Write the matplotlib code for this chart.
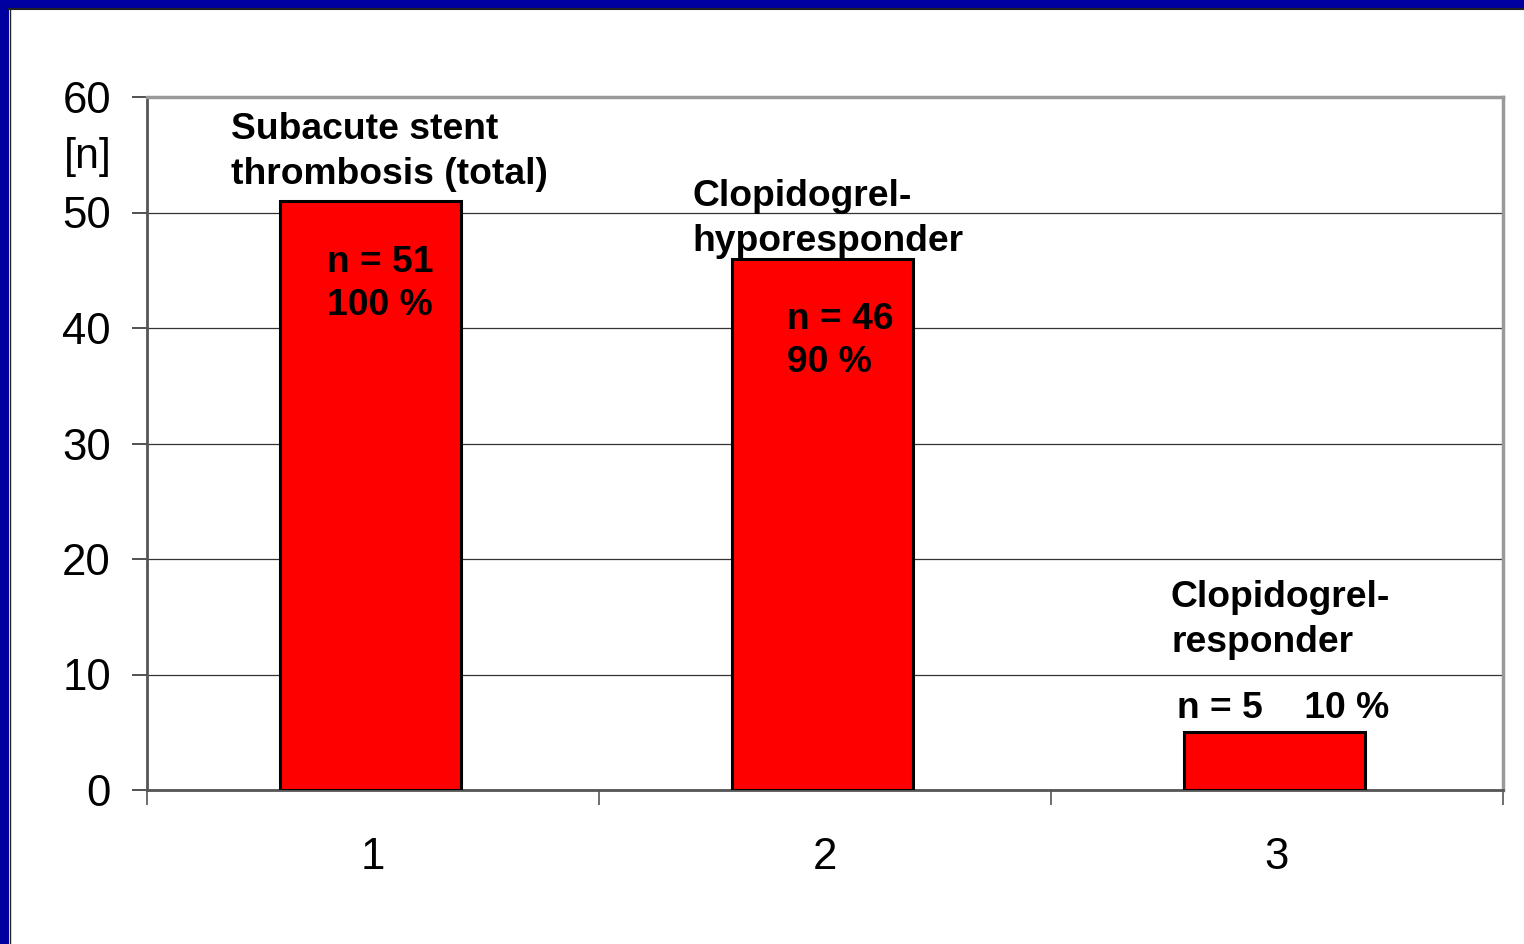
import matplotlib
matplotlib.use("Agg")
import matplotlib.pyplot as plt
from matplotlib.patches import Rectangle

categories = [1, 2, 3]
values = [51, 46, 5]
yticks = [0, 10, 20, 30, 40, 50, 60]
group_labels = [["Subacute stent", "thrombosis (total)"],
                ["Clopidogrel-", "hyporesponder"],
                ["Clopidogrel-", "responder"]]
inner_labels = [["n = 51", "100 %"], ["n = 46", "90 %"], ["n = 5    10 %"]]

plt.rcParams['font.family'] = ['Liberation Sans', 'DejaVu Sans']

W, H = 1524, 944
fig = plt.figure(figsize=(W / 100, H / 100), dpi=100)
fig.patch.set_facecolor('white')

def px2fig(x0, y0, x1, y1):
    return [x0 / W, 1 - y1 / H, (x1 - x0) / W, (y1 - y0) / H]

ax = fig.add_axes(px2fig(147, 97, 1503, 790))
ax.set_xlim(0.5, 3.5)
ax.set_ylim(0, 60)

bar_offset = -0.006
ax.bar([c + bar_offset for c in categories], values, width=0.4, color='#ff0000',
       edgecolor='black', linewidth=2.2, zorder=3)

ax.set_yticks(yticks)
ax.set_yticklabels([str(v) for v in yticks], fontsize=31.5)
ax.yaxis.grid(True, color='#333333', linewidth=0.9, zorder=0)
ax.set_axisbelow(True)

ax.set_xticks([0.5, 1.5, 2.5, 3.5])
ax.set_xticklabels([])
ax.set_xticks(categories, minor=True)
ax.set_xticklabels([str(c) for c in categories], minor=True, fontsize=31.5)
ax.tick_params(axis='x', which='minor', length=0, pad=34)
ax.tick_params(axis='x', which='major', length=11, width=1.2, color='#555555', direction='out')
ax.tick_params(axis='y', length=11, width=1.2, color='#333333', pad=15, direction='out')

for s in ['top', 'right']:
    ax.spines[s].set_color('#999999')
    ax.spines[s].set_linewidth(2.5)
for s in ['left', 'bottom']:
    ax.spines[s].set_color('#555555')
    ax.spines[s].set_linewidth(2)

def dx(px):
    return 0.5 + (px - 147) / 452.0

def dy(py):
    return (790 - py) / 693.0 * 60

fs = 26.8
group_pos = [(231, 139), (692, 206), (1171, 607)]
inner_pos = [(327, 272), (787, 329), (1177, 718)]
spacing = 45
for lines, (lx, by) in zip(group_labels, group_pos):
    for i, t in enumerate(lines):
        ax.text(dx(lx), dy(by + i * spacing), t, fontsize=fs, fontweight='bold',
                ha='left', va='baseline', zorder=5)
for lines, (lx, by) in zip(inner_labels, inner_pos):
    for i, t in enumerate(lines):
        ax.text(dx(lx), dy(by + i * 43), t, fontsize=fs, fontweight='bold',
                ha='left', va='baseline', zorder=5)

fig.text(88 / W, 1 - 157 / H, "[n]", fontsize=31, ha='center', va='center')

# blue frame
fig.patches.append(Rectangle((0, 1 - 8 / H), 1, 8 / H, transform=fig.transFigure,
                             facecolor='#0000a0', edgecolor='none', zorder=10))
fig.patches.append(Rectangle((0, 0), 9 / W, 1, transform=fig.transFigure,
                             facecolor='#0000a0', edgecolor='none', zorder=10))
fig.add_artist(plt.Line2D([9 / W, 1], [1 - 8.5 / H, 1 - 8.5 / H], transform=fig.transFigure,
                          color='#222222', linewidth=1.5, zorder=11))
fig.add_artist(plt.Line2D([9.5 / W, 9.5 / W], [0, 1 - 8 / H], transform=fig.transFigure,
                          color='#222222', linewidth=1, zorder=11))

fig.savefig('out.png', dpi=100, facecolor='white')
